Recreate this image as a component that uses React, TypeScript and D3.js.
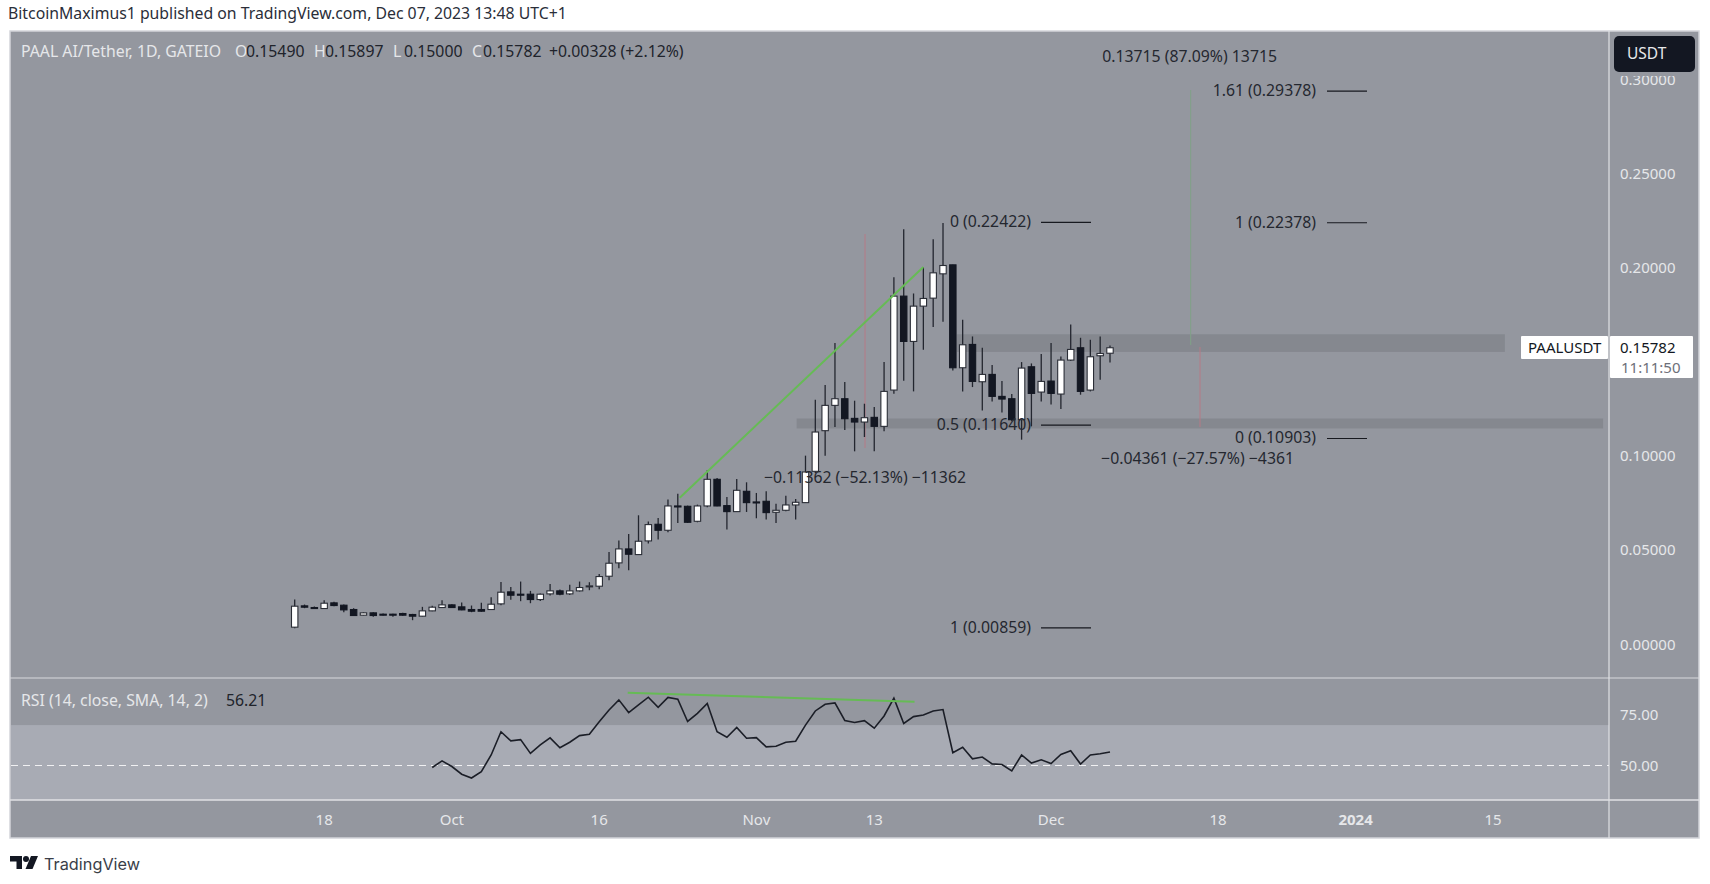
import * as d3 from "d3";

const opens = [
  0.00921, 0.02055, 0.01966, 0.01913, 0.02214, 0.0209, 0.0186, 0.01559, 0.01683, 0.01612,
  0.01612, 0.01647, 0.01595, 0.01506, 0.01789, 0.01966, 0.02108, 0.02002, 0.0186, 0.0186,
  0.0186, 0.02161, 0.02799, 0.02675, 0.02675, 0.02391, 0.02692, 0.02852, 0.02692, 0.02852,
  0.031, 0.031, 0.03631, 0.0434, 0.05083, 0.04782, 0.05509, 0.06394, 0.06075, 0.07368,
  0.0735, 0.06553, 0.07368, 0.08785, 0.07386, 0.07067, 0.08147, 0.07581, 0.07616, 0.07031,
  0.07138, 0.07421, 0.07545, 0.0921, 0.11371, 0.12717, 0.13071, 0.12026, 0.11831, 0.1208,
  0.11601, 0.13532, 0.18527, 0.16118, 0.17995, 0.1842, 0.19713, 0.20191, 0.14718, 0.15958,
  0.13974, 0.14364, 0.13195, 0.13071, 0.11955, 0.14771, 0.13425, 0.1401, 0.13319, 0.15126,
  0.15781, 0.13531, 0.15356, 0.1549,
];
const highs = [
  0.02391, 0.02126, 0.02019, 0.02356, 0.02267, 0.02126, 0.01931, 0.01718, 0.01718, 0.01647,
  0.0163, 0.01683, 0.0163, 0.02002, 0.02055, 0.02356, 0.02143, 0.02232, 0.02072, 0.02214,
  0.02515, 0.0333, 0.03064, 0.03348, 0.02852, 0.0271, 0.03224, 0.02923, 0.03171, 0.03348,
  0.03313, 0.03755, 0.04924, 0.05526, 0.05881, 0.06872, 0.06536, 0.0673, 0.07705, 0.08023,
  0.07386, 0.07439, 0.09263, 0.08856, 0.07846, 0.08803, 0.08626, 0.08059, 0.08147, 0.07492,
  0.07917, 0.0774, 0.10043, 0.13018, 0.13798, 0.16029, 0.13957, 0.12965, 0.12805, 0.12629,
  0.1502, 0.19536, 0.22087, 0.18668, 0.20067, 0.21555, 0.22422, 0.20191, 0.17269, 0.16383,
  0.15781, 0.1486, 0.1401, 0.13319, 0.15019, 0.14948, 0.15444, 0.16029, 0.1532, 0.17021,
  0.16312, 0.16206, 0.16383, 0.15897,
];
const lows = [
  0.00859, 0.01931, 0.01895, 0.01895, 0.02037, 0.01718, 0.01523, 0.01541, 0.0147, 0.01541,
  0.0147, 0.01523, 0.01293, 0.01488, 0.01771, 0.01949, 0.01949, 0.01824, 0.01718, 0.01736,
  0.01842, 0.0209, 0.02374, 0.02303, 0.02196, 0.0232, 0.02604, 0.02621, 0.02639, 0.02817,
  0.02887, 0.0294, 0.03419, 0.04056, 0.0395, 0.04765, 0.05367, 0.05579, 0.05969, 0.06465,
  0.06465, 0.065, 0.07297, 0.0735, 0.06111, 0.07049, 0.07049, 0.06713, 0.06642, 0.06465,
  0.07085, 0.06642, 0.07527, 0.09121, 0.10043, 0.11566, 0.11406, 0.10273, 0.11034, 0.10273,
  0.11336, 0.13337, 0.14028, 0.13461, 0.15675, 0.16879, 0.17162, 0.14576, 0.13461, 0.13691,
  0.12451, 0.12929, 0.12335, 0.11867, 0.10893, 0.11601, 0.12929, 0.1277, 0.12522, 0.15072,
  0.13284, 0.13461, 0.1408, 0.15,
];
const closes = [
  0.02037, 0.01984, 0.0195, 0.02196, 0.02072, 0.01842, 0.01541, 0.01683, 0.01541, 0.01595,
  0.01595, 0.01559, 0.01506, 0.01789, 0.01984, 0.02108, 0.01966, 0.01842, 0.01771, 0.01771,
  0.02143, 0.02781, 0.02621, 0.02657, 0.02391, 0.02675, 0.02852, 0.02675, 0.02852, 0.03029,
  0.03118, 0.03613, 0.04322, 0.05083, 0.048, 0.05491, 0.06377, 0.06075, 0.07368, 0.0735,
  0.065, 0.07368, 0.08785, 0.07368, 0.07067, 0.08201, 0.07545, 0.07563, 0.07014, 0.07138,
  0.07421, 0.07563, 0.09175, 0.113, 0.12717, 0.13071, 0.12009, 0.11831, 0.12062, 0.11601,
  0.13461, 0.18527, 0.16118, 0.17995, 0.18403, 0.19766, 0.20156, 0.14718, 0.1594, 0.13992,
  0.14364, 0.13195, 0.13053, 0.11955, 0.14701, 0.13354, 0.13992, 0.13354, 0.15126, 0.15692,
  0.13461, 0.15303, 0.1548, 0.15782,
];

// RSI starts at bar 14
const rsiStart = 14;
const rsiValues = [
  49.0, 52.3, 49.5, 45.7, 43.8, 47.0, 55.2, 66.7, 62.2, 62.8,
  56.0, 60.2, 63.7, 58.8, 61.5, 64.8, 65.5, 71.7, 77.5, 82.5,
  76.2, 80.0, 83.8, 78.8, 83.7, 82.8, 71.8, 75.8, 80.7, 66.7,
  64.0, 68.8, 63.5, 63.8, 59.2, 59.5, 61.5, 62.0, 70.0, 77.0,
  80.3, 81.0, 72.3, 71.3, 72.2, 68.5, 74.5, 83.3, 70.8, 74.2,
  75.0, 77.0, 77.7, 56.3, 59.0, 53.3, 54.2, 50.8, 50.5, 47.3,
  55.2, 51.2, 52.8, 51.0, 55.5, 57.3, 50.7, 55.2, 55.8, 56.7,
];

const priceTicks = [0, 0.05, 0.1, 0.2, 0.25, 0.3];
const rsiTicks = [50, 75];
const timeTicks = [
  { bar: 3, label: "18" },
  { bar: 16, label: "Oct" },
  { bar: 31, label: "16" },
  { bar: 47, label: "Nov" },
  { bar: 59, label: "13" },
  { bar: 77, label: "Dec" },
  { bar: 94, label: "18" },
  { bar: 108, label: "2024", bold: true },
  { bar: 122, label: "15" },
];

// drawings, in bar / price terms
const zones = [
  { from: 67.4, to: 123.2, top: 0.165, bottom: 0.1556 },
  { from: 51.1, to: 133.2, top: 0.1202, bottom: 0.1149 },
];
const fibLeft = [
  { label: "0 (0.22422)", price: 0.22422 },
  { label: "0.5 (0.11640)", price: 0.1164 },
  { label: "1 (0.00859)", price: 0.00859 },
];
const fibRight = [
  { label: "1.61 (0.29378)", price: 0.29378 },
  { label: "1 (0.22378)", price: 0.22378 },
  { label: "0 (0.10903)", price: 0.10903 },
];
const ohlcLegend = [
  { key: "O", value: "0.15490" },
  { key: "H", value: "0.15897" },
  { key: "L", value: "0.15000" },
  { key: "C", value: "0.15782" },
];
const trendLine: [number, number][] = [[39.2, 0.078], [64, 0.2008]];
const rsiTrend: [number, number][] = [[33.9, 86], [63.1, 81.5]];

const BG = "#94979f";
const DARK = "#131722";
const LIGHT = "#e6e7ea";
const INK = "#24272f";
const FONT = "'Noto Sans', sans-serif";
const NOTE = 15.8;

const x = d3.scaleLinear().domain([0, 83]).range([294.7, 1110]);
const y = d3.scaleLinear().domain([0, 0.3]).range([644.5, 80.4]);
const yRsi = d3.scaleLinear().domain([50, 75]).range([765.5, 715]);

const plotRight = 1609;
const paneTop = 31;
const rsiTop = 678;
const rsiBottom = 800;
const frameBottom = 838;

export default function App() {
  const rsiLine = d3
    .line<number>()
    .x((_, i) => x(i + rsiStart))
    .y((d) => yRsi(d));
  const priceLine = d3.line<[number, number]>().x((d) => x(d[0])).y((d) => y(d[1]));
  const rsiTrendPath = d3.line<[number, number]>().x((d) => x(d[0])).y((d) => yRsi(d[1]));

  return (
    <svg
      width={1710}
      height={884}
      style={{ position: "fixed", left: 0, top: 0, background: "#fff" }}
      fontFamily={FONT}
    >
      <text x={8} y={19} fontSize={NOTE} fill="#2a2e39">
        BitcoinMaximus1 published on TradingView.com, Dec 07, 2023 13:48 UTC+1
      </text>

      {/* panes */}
      <rect x={10} y={paneTop} width={1689} height={frameBottom - paneTop} fill={BG} stroke="#d3d5da" strokeWidth={1.5} />
      <rect x={11} y={yRsi(70)} width={plotRight - 11} height={rsiBottom - yRsi(70)} fill="#a8abb4" />
      <line x1={10} x2={1699} y1={rsiTop} y2={rsiTop} stroke="#d8d9de" strokeWidth={1.2} />
      <line x1={10} x2={1699} y1={rsiBottom} y2={rsiBottom} stroke="#e0e1e5" strokeWidth={1.5} />
      <line x1={plotRight} x2={plotRight} y1={paneTop} y2={frameBottom} stroke="#e0e1e5" strokeWidth={1.2} />

      {/* zones */}
      {zones.map((z, i) => (
        <rect
          key={i}
          x={x(z.from)}
          width={x(z.to) - x(z.from)}
          y={y(z.top)}
          height={y(z.bottom) - y(z.top)}
          fill="#85888f"
        />
      ))}

      {/* measure tools */}
      <line x1={865} x2={865} y1={234} y2={448} stroke="#b57a86" strokeWidth={1} />
      <line x1={1190.7} x2={1190.7} y1={90} y2={345} stroke="#7fa287" strokeWidth={1} />
      <line x1={1200} x2={1200} y1={347} y2={427} stroke="#b57a86" strokeWidth={1} />

      {/* candles */}
      {opens.map((o, i) => {
        const c = closes[i];
        const up = c >= o;
        const top = y(Math.max(o, c));
        const h = Math.max(y(Math.min(o, c)) - top, 1);
        return (
          <g key={i}>
            <line x1={x(i)} x2={x(i)} y1={y(highs[i])} y2={y(lows[i])} stroke="#23262f" strokeWidth={1.3} />
            <rect
              x={x(i) - 3.2}
              y={top}
              width={6.4}
              height={h}
              fill={up ? "#ffffff" : DARK}
              stroke={up ? "#2a2d36" : DARK}
              strokeWidth={1.1}
            />
          </g>
        );
      })}

      <path d={priceLine(trendLine) ?? ""} fill="none" stroke="#66bb55" strokeWidth={2} />

      {/* fib levels */}
      {fibLeft.map((f) => (
        <g key={f.label}>
          <text x={1031} y={y(f.price) + 4.5} textAnchor="end" fontSize={NOTE} fill={INK}>{f.label}</text>
          <line x1={1041} x2={1091} y1={y(f.price) - 0.5} y2={y(f.price) - 0.5} stroke="#17191f" strokeWidth={1.1} />
        </g>
      ))}
      {fibRight.map((f) => (
        <g key={f.label}>
          <text x={1316} y={y(f.price) + 4} textAnchor="end" fontSize={NOTE} fill={INK}>{f.label}</text>
          <line x1={1327} x2={1367} y1={y(f.price) - 1} y2={y(f.price) - 1} stroke="#17191f" strokeWidth={1.1} />
        </g>
      ))}
      <text x={865} y={483} textAnchor="middle" fontSize={NOTE} fill={INK}>−0.11362 (−52.13%) −11362</text>
      <text x={1277} y={62} textAnchor="end" fontSize={NOTE} fill={INK}>0.13715 (87.09%) 13715</text>
      <text x={1294} y={464} textAnchor="end" fontSize={NOTE} fill={INK}>−0.04361 (−27.57%) −4361</text>

      {/* legends */}
      <text x={21} y={57} fontSize={NOTE} fill={LIGHT}>PAAL AI/Tether, 1D, GATEIO</text>
      {ohlcLegend.map((d, i) => (
        <text key={d.key} x={235 + i * 79} y={57} fontSize={NOTE} fill={LIGHT}>
          {d.key}
          <tspan x={246 + i * 79} fill="#20232b">{d.value}</tspan>
        </text>
      ))}
      <text x={549} y={57} fontSize={NOTE} fill="#20232b">+0.00328 (+2.12%)</text>
      <text x={21} y={706} fontSize={NOTE} fill={LIGHT}>RSI (14, close, SMA, 14, 2)</text>
      <text x={226} y={706} fontSize={NOTE} fill="#20232b">56.21</text>

      {/* rsi */}
      <line x1={11} x2={plotRight} y1={yRsi(50)} y2={yRsi(50)} stroke="#f0f0f2" strokeWidth={1.2} strokeDasharray="7 5" />
      <path d={rsiLine(rsiValues) ?? ""} fill="none" stroke="#1b1e27" strokeWidth={1.6} />
      <path d={rsiTrendPath(rsiTrend) ?? ""} fill="none" stroke="#66bb55" strokeWidth={2} />

      {/* price axis */}
      {priceTicks.map((t) => (
        <text key={t} x={1620} y={y(t) + 5} fontSize={15} fill={LIGHT}>{d3.format(".5f")(t)}</text>
      ))}
      {rsiTicks.map((t) => (
        <text key={t} x={1620} y={yRsi(t) + 5} fontSize={15} fill={LIGHT}>{d3.format(".2f")(t)}</text>
      ))}
      <rect x={1610} y={32} width={88} height={44} fill={BG} />
      <rect x={1614} y={36} width={81} height={36} rx={5} fill={DARK} />
      <text x={1627} y={59} fontSize={15.5} fill={LIGHT}>USDT</text>

      {/* time axis */}
      {timeTicks.map((t) => (
        <text
          key={t.bar}
          x={x(t.bar)}
          y={825}
          textAnchor="middle"
          fontSize={15}
          fontWeight={t.bold ? 700 : 400}
          fill={LIGHT}
        >
          {t.label}
        </text>
      ))}

      {/* last price tags */}
      <rect x={1521} y={336} width={87} height={23} rx={1} fill="#fff" />
      <text x={1528} y={353} fontSize={15} fill="#131722">PAALUSDT</text>
      <rect x={1610} y={336} width={83} height={42} rx={1} fill="#fff" />
      <text x={1620} y={353} fontSize={15} fill="#131722">{d3.format(".5f")(closes[closes.length - 1])}</text>
      <text x={1621} y={373} fontSize={15} fill="#6d7079">11:11:50</text>

      {/* footer logo */}
      <g fill="#131722">
        <path d="M10 856h12v13h-5.5v-7.5H10z" />
        <circle cx={26} cy={859} r={3} />
        <path d="M31 856h7l-5.5 13h-7z" />
      </g>
      <text x={44} y={870} fontSize={16.3} fill="#3a3e48" fontFamily="Inter, sans-serif">TradingView</text>
    </svg>
  );
}
